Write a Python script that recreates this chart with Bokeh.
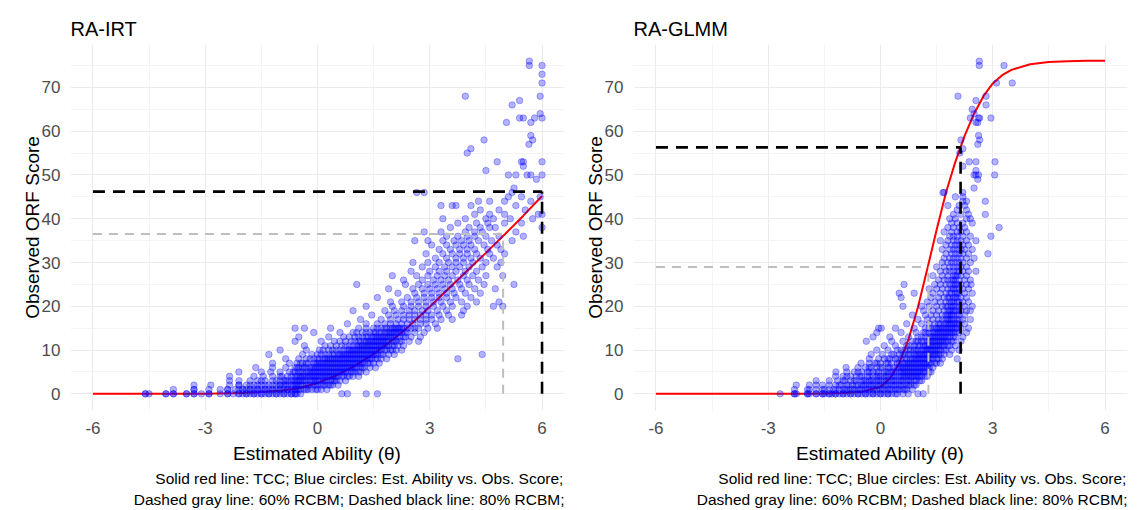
from bokeh.plotting import figure
from bokeh.layouts import row
from bokeh.models import FixedTicker, Title, Range1d
from bokeh.embed import file_html
from bokeh.resources import INLINE

# ---------------- data ----------------
x_ticks = [-6, -3, 0, 3, 6]
x_tick_labels = ["-6", "-3", "0", "3", "6"]
x_minor = [-4.5, -1.5, 1.5, 4.5]
y_ticks = [0, 10, 20, 30, 40, 50, 60, 70]
y_tick_labels = ["0", "10", "20", "30", "40", "50", "60", "70"]
y_minor = [5, 15, 25, 35, 45, 55, 65, 75]

caption1 = "Solid red line: TCC; Blue circles: Est. Ability vs. Obs. Score;"
caption2 = "Dashed gray line: 60% RCBM; Dashed black line: 80% RCBM;"

# Test characteristic curves
irt_tcc_theta = [-6, -5, -4, -3, -2, -1.5, -1, -0.5, 0, 0.5, 1, 1.5, 2, 2.25, 2.5, 3, 3.5, 4, 4.5, 5, 5.5, 6]
irt_tcc_score = [0, 0, 0.02, 0.05, 0.2, 0.4, 0.7, 1.3, 2.5, 4.2, 6.4, 9.1, 12.3, 14, 15.9, 19.9, 24, 28.1, 32.2, 36.4, 40.7, 45.2]
glmm_tcc_theta = [-6, -5, -4, -3, -2, -1.5, -1, -0.5, 0, 0.25, 0.5, 0.75, 1, 1.25, 1.5, 1.75, 2, 2.25, 2.5, 2.75, 3, 3.25, 3.5, 4, 4.5, 5, 5.5, 6]
glmm_tcc_score = [0, 0, 0, 0, 0.05, 0.1, 0.2, 0.5, 1.6, 3.5, 7, 12.5, 19.8, 28.5, 37.5, 46, 53, 59, 64, 68, 70.9, 72.8, 74, 75.3, 75.8, 76.0, 76.1, 76.1]

# RCBM cut lines (ability where TCC reaches it, score level)
irt_rcbm60 = (4.96, 36.5)
irt_rcbm80 = (6.0, 46.2)
glmm_rcbm60 = (1.28, 29.0)
glmm_rcbm80 = (2.14, 56.3)

# Observed scores (levels) and the estimated abilities of examinees at each level
irt_levels = [0, 1, 2, 3, 4, 5, 6, 7, 8, 9, 10, 11, 12, 13, 14, 15, 16, 17, 18, 19, 20,
              21, 22, 23, 24, 25, 26, 27, 28, 29, 30, 31, 32, 33, 34, 35, 36, 37, 38, 39, 40,
              41, 42, 43, 44, 45, 46, 47, 49, 50, 51, 52, 53, 55, 56, 57, 58, 59, 62, 63, 64,
              66, 67, 68, 71, 73, 75, 76]
irt_rows = [
    [-4.6, -4.6, -4.5, -4.05, -4.05, -3.85, -3.85, -3.5, -3.5, -3.3, -3.3, -3.1, -2.9, -2.9, -2.6, -2.4, -2.4, -2.25, -2.1, -2.1, -2.0, -1.9, -1.9, -1.8, -1.7, -1.7, -1.6, -1.5, -1.5, -1.4, -1.3, -1.3, -1.2, -1.1, -1.1, -1.0, -0.9, -0.9, -0.8, -0.7, -0.7, -0.6, -0.6, -0.55, -0.45, 0.65, 0.8, 1.3, 1.6],
    [-3.85, -3.3, -3.3, -2.9, -2.6, -2.4, -2.4, -2.2, -2.1, -2.0, -2.0, -1.9, -1.8, -1.8, -1.7, -1.6, -1.6, -1.5, -1.4, -1.4, -1.3, -1.2, -1.2, -1.1, -1.0, -1.0, -0.9, -0.8, -0.8, -0.7, -0.6, -0.6, -0.55, -0.5, -0.45, -0.35, -0.3, -0.25, -0.15, -0.05, 0.0, 0.1, 0.25],
    [-3.3, -2.85, -2.35, -2.1, -2.1, -1.9, -1.8, -1.7, -1.6, -1.5, -1.4, -1.3, -1.2, -1.1, -1.0, -1.0, -0.9, -0.85, -0.8, -0.7, -0.65, -0.6, -0.55, -0.5, -0.45, -0.4, -0.3, -0.25, -0.2, -0.1, -0.05, 0.0, 0.1, 0.15, 0.2, 0.3, 0.35, 0.4, 0.55],
    [-2.35, -2.1, -1.8, -1.6, -1.5, -1.4, -1.2, -1.1, -1.0, -0.9, -0.85, -0.8, -0.7, -0.65, -0.6, -0.55, -0.5, -0.45, -0.4, -0.35, -0.3, -0.2, -0.15, -0.1, -0.05, 0.0, 0.05, 0.15, 0.2, 0.25, 0.35, 0.4, 0.45, 0.5, 0.6, 0.75],
    [-2.35, -1.7, -1.45, -1.2, -1.0, -0.95, -0.8, -0.7, -0.6, -0.55, -0.5, -0.45, -0.4, -0.35, -0.3, -0.25, -0.2, -0.15, -0.1, -0.05, 0.0, 0.05, 0.1, 0.15, 0.2, 0.25, 0.3, 0.35, 0.4, 0.45, 0.5, 0.55, 0.65, 0.7, 0.8, 0.85, 0.95, 1.1],
    [-2.1, -1.5, -1.25, -1.0, -0.75, -0.65, -0.6, -0.5, -0.45, -0.4, -0.3, -0.25, -0.2, -0.15, -0.1, -0.05, 0.0, 0.05, 0.1, 0.15, 0.2, 0.25, 0.3, 0.35, 0.4, 0.45, 0.5, 0.55, 0.6, 0.65, 0.7, 0.75, 0.8, 0.9, 0.95, 1.0, 1.1, 1.15, 1.3],
    [-1.65, -1.2, -0.85, -0.6, -0.55, -0.5, -0.4, -0.35, -0.3, -0.2, -0.15, -0.1, -0.05, 0.0, 0.05, 0.1, 0.15, 0.2, 0.25, 0.3, 0.35, 0.4, 0.45, 0.5, 0.55, 0.6, 0.65, 0.7, 0.75, 0.8, 0.85, 0.9, 0.95, 1.0, 1.05, 1.15, 1.2, 1.25, 1.4, 1.55],
    [-1.2, -0.75, -0.55, -0.45, -0.4, -0.3, -0.25, -0.1, -0.05, 0.0, 0.05, 0.1, 0.15, 0.2, 0.25, 0.3, 0.35, 0.4, 0.45, 0.5, 0.55, 0.6, 0.65, 0.7, 0.75, 0.8, 0.85, 0.9, 0.95, 1.0, 1.05, 1.1, 1.15, 1.2, 1.25, 1.35, 1.4, 1.5, 1.65],
    [-0.85, -0.5, -0.3, -0.2, -0.1, 0.0, 0.05, 0.15, 0.2, 0.25, 0.3, 0.35, 0.4, 0.45, 0.5, 0.55, 0.6, 0.65, 0.7, 0.75, 0.8, 0.85, 0.9, 0.95, 1.0, 1.05, 1.1, 1.15, 1.2, 1.25, 1.3, 1.35, 1.4, 1.45, 1.55, 1.6, 1.7, 1.85, 3.75],
    [-1.3, -0.4, -0.15, 0.0, 0.1, 0.2, 0.3, 0.4, 0.45, 0.55, 0.6, 0.65, 0.7, 0.75, 0.8, 0.85, 0.9, 0.95, 1.0, 1.05, 1.1, 1.15, 1.2, 1.25, 1.3, 1.35, 1.4, 1.45, 1.5, 1.55, 1.6, 1.7, 1.75, 1.9, 2.05, 4.4],
    [-1.0, -0.3, 0.05, 0.15, 0.3, 0.4, 0.5, 0.6, 0.7, 0.8, 0.85, 0.9, 0.95, 1.0, 1.05, 1.1, 1.15, 1.2, 1.25, 1.3, 1.35, 1.4, 1.45, 1.5, 1.55, 1.6, 1.65, 1.7, 1.8, 1.85, 1.95, 2.0, 2.1, 2.25],
    [-0.35, 0.2, 0.35, 0.5, 0.65, 0.75, 0.85, 0.95, 1.05, 1.1, 1.15, 1.2, 1.25, 1.3, 1.35, 1.4, 1.45, 1.5, 1.55, 1.6, 1.65, 1.7, 1.75, 1.8, 1.85, 1.9, 2.0, 2.05, 2.15, 2.3],
    [-0.6, 0.1, 0.45, 0.6, 0.75, 0.9, 1.0, 1.1, 1.15, 1.25, 1.3, 1.35, 1.4, 1.45, 1.5, 1.55, 1.6, 1.65, 1.7, 1.75, 1.8, 1.85, 1.9, 2.0, 2.05, 2.1, 2.2, 2.25, 2.45, 2.7],
    [-0.5, 0.3, 0.7, 0.85, 1.0, 1.1, 1.2, 1.3, 1.35, 1.45, 1.5, 1.55, 1.6, 1.65, 1.7, 1.75, 1.8, 1.85, 1.9, 1.95, 2.0, 2.05, 2.1, 2.2, 2.3, 2.35, 2.5, 2.75],
    [-0.1, 0.6, 0.95, 1.05, 1.2, 1.3, 1.4, 1.5, 1.55, 1.65, 1.7, 1.8, 1.85, 1.9, 1.95, 2.0, 2.05, 2.1, 2.15, 2.2, 2.25, 2.35, 2.4, 2.6, 2.85],
    [-0.6, -0.35, 0.35, 1.1, 1.3, 1.5, 1.6, 1.7, 1.8, 1.85, 1.95, 2.0, 2.05, 2.1, 2.15, 2.2, 2.25, 2.3, 2.4, 2.5, 2.6, 2.7, 2.95, 3.2],
    [0.8, 1.3, 1.6, 1.8, 1.95, 2.1, 2.25, 2.4, 2.55, 2.75, 2.9, 3.15],
    [1.15, 1.7, 1.95, 2.15, 2.3, 2.45, 2.6, 2.75, 2.9, 3.05, 3.3, 3.6],
    [1.45, 1.9, 2.1, 2.3, 2.45, 2.6, 2.75, 2.9, 3.05, 3.25, 3.5, 3.85],
    [0.95, 1.8, 2.05, 2.25, 2.45, 2.6, 2.8, 2.95, 3.2, 3.45, 3.9],
    [1.3, 2.0, 2.3, 2.5, 2.7, 2.9, 3.1, 3.35, 3.6, 4.0, 4.7, 4.95],
    [1.95, 2.25, 2.5, 2.7, 2.9, 3.1, 3.3, 3.55, 3.85, 4.25, 4.85],
    [1.6, 2.4, 2.65, 2.85, 3.05, 3.25, 3.45, 3.7, 4.1],
    [2.15, 2.6, 2.85, 3.05, 3.25, 3.45, 3.65, 3.95, 4.35],
    [1.9, 2.55, 2.8, 3.0, 3.2, 3.4, 3.6, 3.85, 4.2, 4.75],
    [1.05, 2.35, 2.7, 2.95, 3.15, 3.35, 3.55, 3.8, 4.05, 4.45, 5.25],
    [2.3, 2.8, 3.1, 3.3, 3.5, 3.75, 4.0, 4.3],
    [2.0, 2.65, 2.95, 3.2, 3.4, 3.6, 3.9, 4.15, 4.5, 4.95],
    [2.5, 3.0, 3.25, 3.45, 3.7, 3.95, 4.25],
    [2.8, 3.15, 3.4, 3.6, 3.8, 4.05, 4.4, 4.8],
    [2.55, 2.95, 3.25, 3.5, 3.7, 3.9, 4.15, 4.5, 4.9],
    [3.15, 3.45, 3.7, 3.9, 4.1, 4.35, 4.7],
    [2.9, 3.35, 3.6, 3.8, 4.0, 4.25, 4.6, 5.0],
    [3.25, 3.55, 3.8, 4.0, 4.2, 4.55, 4.9],
    [3.05, 3.45, 3.7, 3.9, 4.1, 4.45, 4.8],
    [2.6, 2.95, 3.35, 3.65, 3.85, 4.05, 4.3, 4.65, 5.2],
    [3.45, 3.75, 4.0, 4.2, 4.5, 4.85, 5.5],
    [2.85, 3.3, 3.95, 4.2, 4.4, 5.3],
    [3.55, 4.05, 4.35, 4.6, 4.75, 6.0],
    [3.75, 4.25, 4.55, 5.0, 5.45],
    [3.35, 3.95, 4.5, 4.7, 5.15, 5.75],
    [4.2, 4.6, 5.0, 5.9, 6.0],
    [4.35, 4.85, 5.55],
    [3.3, 3.6, 3.7, 4.1, 5.3],
    [4.3, 4.6, 5.0, 5.7],
    [5.1, 5.45, 5.95],
    [2.65, 2.85, 5.2],
    [5.25],
    [5.85],
    [5.1, 5.3, 5.6, 5.7, 6.0],
    [4.5],
    [5.5],
    [4.8, 5.45, 5.5, 6.0],
    [4.0],
    [4.1],
    [5.65],
    [4.45, 5.75],
    [5.7],
    [5.05, 5.7],
    [5.4, 5.5, 5.8, 6.0],
    [5.95],
    [5.2],
    [5.4],
    [3.95, 5.95],
    [6.0],
    [6.0],
    [5.66, 6.0],
    [5.66],
]

glmm_levels = [0, 1, 2, 3, 4, 5, 6, 7, 8, 9, 10, 11, 12, 13, 14, 15, 16, 17, 18, 19, 20,
               21, 22, 23, 24, 25, 26, 27, 28, 29, 30, 31, 32, 33, 34, 35, 36, 37, 38, 39, 40,
               41, 42, 43, 44, 45, 46, 47, 49, 50, 51, 52, 53, 55, 56, 57, 58, 59, 62, 63, 64,
               65, 66, 67, 68, 71, 75, 76]
glmm_rows = [
    [-2.68, -2.3, -2.3, -2.25, -1.95, -1.95, -1.9, -1.72, -1.72, -1.55, -1.55, -1.5, -1.37, -1.37, -1.3, -1.2, -1.2, -1.1, -1.0, -1.0, -0.9, -0.8, -0.8, -0.7, -0.6, -0.6, -0.5, -0.4, -0.4, -0.3, -0.2, -0.2, -0.1, 0.0, 0.0, 0.1, 0.2, 0.2, 0.3, 0.4, 0.45, 0.6, 0.74, 1.0, 1.14],
    [-2.3, -1.95, -1.9, -1.72, -1.55, -1.5, -1.37, -1.25, -1.2, -1.1, -1.0, -0.95, -0.9, -0.8, -0.75, -0.7, -0.6, -0.55, -0.5, -0.4, -0.35, -0.3, -0.2, -0.15, -0.1, 0.0, 0.05, 0.1, 0.2, 0.25, 0.3, 0.4, 0.45, 0.5, 0.6, 0.65, 0.7, 0.85],
    [-2.25, -1.9, -1.72, -1.55, -1.37, -1.2, -1.1, -1.05, -0.9, -0.85, -0.75, -0.65, -0.6, -0.5, -0.45, -0.4, -0.3, -0.25, -0.2, -0.1, -0.05, 0.0, 0.1, 0.15, 0.2, 0.3, 0.35, 0.4, 0.5, 0.55, 0.6, 0.7, 0.75, 0.8, 0.9, 0.95],
    [-1.72, -1.37, -1.15, -1.0, -0.95, -0.8, -0.7, -0.65, -0.5, -0.45, -0.4, -0.3, -0.25, -0.2, -0.1, -0.05, 0.0, 0.1, 0.15, 0.2, 0.3, 0.35, 0.4, 0.5, 0.55, 0.6, 0.7, 0.75, 0.8, 0.9, 0.95, 1.05, 1.1],
    [-1.2, -1.0, -0.9, -0.8, -0.65, -0.55, -0.5, -0.35, -0.3, -0.2, -0.1, -0.05, 0.0, 0.1, 0.15, 0.2, 0.3, 0.35, 0.4, 0.5, 0.55, 0.6, 0.65, 0.7, 0.75, 0.8, 0.85, 0.9, 0.95, 1.0, 1.05, 1.1, 1.2, 1.25],
    [-1.19, -0.9, -0.7, -0.6, -0.5, -0.35, -0.3, -0.2, -0.1, -0.05, 0.1, 0.15, 0.2, 0.3, 0.35, 0.4, 0.5, 0.55, 0.6, 0.65, 0.7, 0.75, 0.8, 0.85, 0.9, 0.95, 1.0, 1.05, 1.1, 1.15, 1.2, 1.3, 1.35],
    [-0.92, -0.6, -0.4, -0.3, -0.25, -0.1, 0.0, 0.05, 0.2, 0.25, 0.35, 0.45, 0.5, 0.55, 0.6, 0.65, 0.7, 0.75, 0.8, 0.85, 0.9, 0.95, 1.0, 1.05, 1.1, 1.15, 1.2, 1.25, 1.3, 1.4],
    [-0.52, -0.3, -0.15, -0.1, 0.0, 0.15, 0.2, 0.3, 0.45, 0.5, 0.6, 0.65, 0.7, 0.75, 0.8, 0.85, 0.9, 0.95, 1.0, 1.05, 1.1, 1.15, 1.2, 1.25, 1.3, 1.35, 1.45, 1.5, 1.6],
    [-0.3, -0.05, 0.1, 0.2, 0.25, 0.4, 0.45, 0.55, 0.65, 0.7, 0.8, 0.85, 0.9, 0.95, 1.0, 1.05, 1.1, 1.15, 1.2, 1.25, 1.3, 1.35, 1.4, 1.5, 1.55, 1.65, 2.05],
    [-0.25, 0.05, 0.3, 0.35, 0.5, 0.6, 0.65, 0.75, 0.8, 0.9, 0.95, 1.0, 1.05, 1.1, 1.15, 1.2, 1.25, 1.3, 1.35, 1.4, 1.45, 1.5, 1.55, 1.6, 1.7, 1.85],
    [-0.1, 0.2, 0.45, 0.55, 0.65, 0.75, 0.8, 0.9, 0.95, 1.0, 1.1, 1.15, 1.2, 1.25, 1.3, 1.35, 1.4, 1.45, 1.5, 1.55, 1.6, 1.7, 1.75, 1.9, 2.1],
    [0.1, 0.4, 0.7, 0.8, 0.9, 1.0, 1.05, 1.15, 1.2, 1.25, 1.3, 1.35, 1.4, 1.45, 1.5, 1.55, 1.6, 1.65, 1.7, 1.8, 1.85, 2.0],
    [-0.38, 0.3, 0.6, 0.85, 0.95, 1.0, 1.1, 1.15, 1.25, 1.3, 1.35, 1.4, 1.45, 1.5, 1.55, 1.6, 1.65, 1.7, 1.75, 1.8, 1.9, 1.95, 2.15],
    [-0.2, 0.25, 0.75, 1.0, 1.1, 1.2, 1.3, 1.35, 1.4, 1.45, 1.5, 1.55, 1.6, 1.65, 1.7, 1.75, 1.8, 1.85, 1.95, 2.0, 2.2],
    [-0.1, 0.55, 0.95, 1.15, 1.2, 1.3, 1.4, 1.45, 1.5, 1.55, 1.6, 1.65, 1.7, 1.75, 1.8, 1.85, 1.9, 1.95, 2.0, 2.1, 2.3],
    [-0.05, 0.02, 0.4, 0.9, 1.2, 1.3, 1.35, 1.45, 1.5, 1.55, 1.6, 1.65, 1.7, 1.75, 1.8, 1.85, 1.9, 1.95, 2.0, 2.05, 2.15, 2.35],
    [0.7, 1.1, 1.3, 1.45, 1.55, 1.6, 1.7, 1.75, 1.8, 1.85, 1.9, 1.95, 2.0, 2.05, 2.1, 2.25],
    [1.0, 1.25, 1.4, 1.55, 1.65, 1.75, 1.8, 1.85, 1.9, 1.95, 2.05, 2.1, 2.2, 2.4],
    [0.85, 1.2, 1.35, 1.5, 1.65, 1.75, 1.8, 1.85, 1.9, 1.95, 2.05, 2.1, 2.25],
    [1.15, 1.4, 1.55, 1.7, 1.8, 1.85, 1.9, 1.95, 2.0, 2.1, 2.15, 2.3, 2.4],
    [0.6, 1.1, 1.3, 1.5, 1.65, 1.75, 1.8, 1.9, 1.95, 2.0, 2.1, 2.25, 2.45],
    [1.25, 1.45, 1.6, 1.75, 1.85, 1.9, 1.95, 2.05, 2.1, 2.2, 2.35],
    [0.55, 1.35, 1.55, 1.7, 1.8, 1.85, 1.95, 2.0, 2.05, 2.15, 2.3],
    [0.5, 0.9, 1.4, 1.6, 1.75, 1.85, 1.9, 2.0, 2.05, 2.1, 2.25, 2.45],
    [1.3, 1.5, 1.65, 1.8, 1.9, 1.95, 2.0, 2.1, 2.2, 2.35],
    [0.63, 1.45, 1.6, 1.75, 1.85, 1.95, 2.0, 2.05, 2.15, 2.3, 2.42],
    [1.55, 1.7, 1.8, 1.9, 1.95, 2.0, 2.1, 2.25, 2.4],
    [1.4, 1.65, 1.8, 1.95, 2.0, 2.05, 2.15, 2.3],
    [1.6, 1.75, 1.85, 1.95, 2.05, 2.1, 2.2, 2.35, 2.55],
    [1.5, 1.7, 1.85, 1.95, 2.05, 2.15, 2.3],
    [1.65, 1.8, 1.9, 2.0, 2.1, 2.2, 2.4],
    [1.7, 1.85, 1.95, 2.05, 2.15, 2.3, 2.5],
    [1.75, 1.9, 2.0, 2.1, 2.2, 2.35, 2.87],
    [1.65, 1.85, 1.95, 2.05, 2.15, 2.25, 2.45],
    [1.75, 1.9, 2.0, 2.1, 2.2, 2.35],
    [1.6, 1.8, 1.95, 2.05, 2.15, 2.3, 2.55],
    [1.85, 1.95, 2.05, 2.2, 2.4, 2.95],
    [1.7, 1.9, 2.05, 2.15, 2.3],
    [1.8, 1.95, 2.1, 2.25, 3.17],
    [1.9, 2.05, 2.2, 2.45],
    [1.85, 2.0, 2.3, 2.4],
    [1.95, 2.15, 2.35, 2.8],
    [2.05, 2.3],
    [1.8, 2.1, 2.25],
    [2.2, 2.3, 2.8],
    [2.0, 2.2],
    [1.67, 1.7, 2.2],
    [2.5],
    [2.6],
    [2.5, 2.55, 2.62, 3.05],
    [2.55],
    [2.2],
    [2.37, 2.55, 3.06],
    [2.12],
    [2.2],
    [2.6],
    [2.15, 2.65],
    [2.62],
    [2.55, 2.6],
    [2.4, 2.62, 2.65, 2.95],
    [2.5],
    [2.45],
    [2.82],
    [2.55],
    [2.07, 2.82],
    [3.1, 3.52],
    [2.64, 3.3],
    [2.64],
]

FONT = "Liberation Sans"


def flatten(levels, rows):
    xs, ys = [], []
    for s, r in zip(levels, rows):
        for t in r:
            xs.append(t)
            ys.append(s)
    return xs, ys


def make_panel(title, levels, rows, tcc_x, tcc_y, cut60, cut80, b_left, b_right):
    p = figure(frame_width=494, frame_height=366,
               x_range=Range1d(-6.6, 6.6), y_range=Range1d(-3.8, 79.8),
               output_backend="svg", toolbar_location=None,
               min_border_left=b_left, min_border_right=b_right,
               min_border_top=44, min_border_bottom=100,
               background_fill_color="white", border_fill_color="white")
    p.outline_line_color = None

    p.title.text = title
    p.title.text_font = FONT
    p.title.text_font_size = "20px"
    p.title.text_font_style = "normal"
    p.title.text_color = "black"
    p.title.align = "left"
    p.title.standoff = 10

    p.xaxis.ticker = FixedTicker(ticks=x_ticks, minor_ticks=x_minor)
    p.yaxis.ticker = FixedTicker(ticks=y_ticks, minor_ticks=y_minor)
    p.xaxis.major_label_overrides = dict(zip(x_ticks, x_tick_labels))
    p.yaxis.major_label_overrides = dict(zip(y_ticks, y_tick_labels))
    p.xaxis.axis_label = "Estimated Ability (θ)"
    p.yaxis.axis_label = "Observed ORF Score"
    for ax in (p.xaxis, p.yaxis):
        ax.axis_line_color = None
        ax.major_tick_line_color = None
        ax.minor_tick_line_color = None
        ax.major_label_text_font = FONT
        ax.major_label_text_font_size = "17px"
        ax.major_label_text_color = "#4D4D4D"
        ax.axis_label_text_font = FONT
        ax.axis_label_text_font_size = "19px"
        ax.axis_label_text_font_style = "normal"
        ax.axis_label_text_color = "black"
    p.xaxis.major_label_standoff = 5
    p.xaxis.axis_label_standoff = 6
    p.yaxis.major_label_standoff = 4
    p.yaxis.axis_label_standoff = -4

    for g in (p.xgrid, p.ygrid):
        g.grid_line_color = "#EBEBEB"
        g.grid_line_width = 1.1
        g.minor_grid_line_color = "#EFEFEF"
        g.minor_grid_line_width = 0.7

    # TCC (under the points)
    p.line(tcc_x, tcc_y, line_color="red", line_width=2)

    xs, ys = flatten(levels, rows)
    p.scatter(xs, ys, marker="circle", size=6.5,
              fill_color="blue", fill_alpha=0.3,
              line_color="blue", line_alpha=0.3, line_width=1)

    x0 = tcc_x[0]
    # 60% RCBM: gray dashed
    p.segment(x0=[x0, cut60[0]], y0=[cut60[1], 0], x1=[cut60[0], cut60[0]], y1=[cut60[1], cut60[1]],
              line_color="#BEBEBE", line_width=2, line_dash="9 7")
    # 80% RCBM: black dashed
    p.segment(x0=[x0, cut80[0]], y0=[cut80[1], 0], x1=[cut80[0], cut80[0]], y1=[cut80[1], cut80[1]],
              line_color="black", line_width=2.6, line_dash="12 8")

    for txt in (caption1, caption2):
        t = Title(text=txt, align="right", text_font=FONT, text_font_size="15.5px",
                  text_font_style="normal", text_color="black", standoff=2)
        p.add_layout(t, "below")
    return p


p1 = make_panel("RA-IRT", irt_levels, irt_rows, irt_tcc_theta, irt_tcc_score,
                irt_rcbm60, irt_rcbm80, 70, 8)
p2 = make_panel("RA-GLMM", glmm_levels, glmm_rows, glmm_tcc_theta, glmm_tcc_score,
                glmm_rcbm60, glmm_rcbm80, 61, 18)

layout = row(p1, p2, spacing=0)
open("out.html", "w").write(file_html(layout, INLINE))
